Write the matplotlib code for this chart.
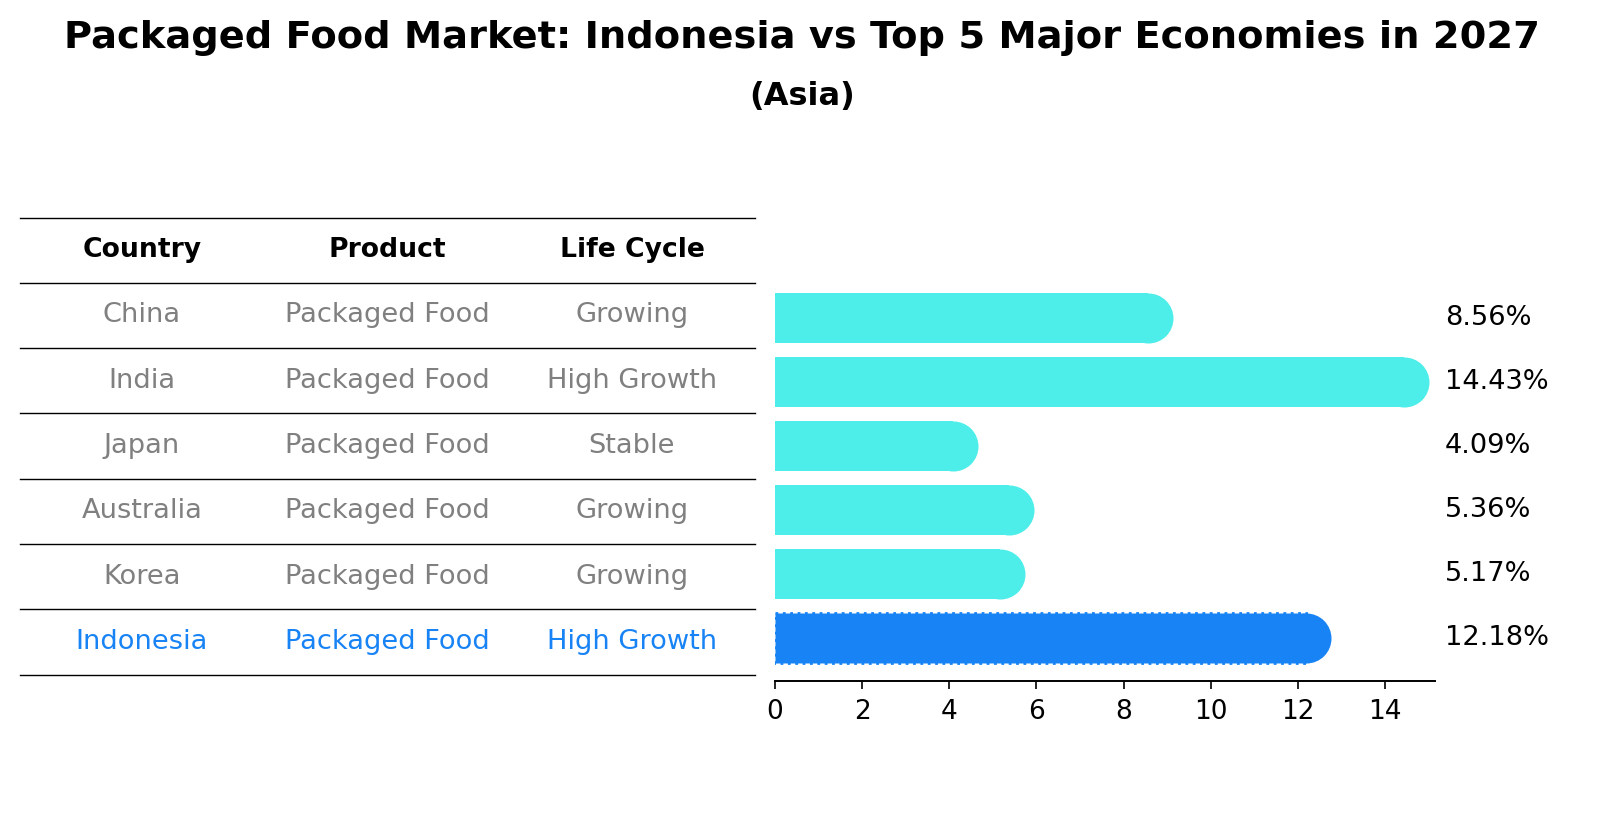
import matplotlib
matplotlib.use("Agg")
import matplotlib.pyplot as plt
from matplotlib.lines import Line2D

countries = ["China", "India", "Japan", "Australia", "Korea", "Indonesia"]
products = ["Packaged Food"] * 6
life_cycle = ["Growing", "High Growth", "Stable", "Growing", "Growing", "High Growth"]
values = [8.56, 14.43, 4.09, 5.36, 5.17, 12.18]
xticks = [0, 2, 4, 6, 8, 10, 12, 14]

W, H = 1604, 823
fig = plt.figure(figsize=(W / 200, H / 200), dpi=200)

def fx(p): return p / W
def fy(p): return 1 - p / H

fig.text(0.5, fy(38), "Packaged Food Market: Indonesia vs Top 5 Major Economies in 2027",
         ha="center", va="center", fontsize=13.8, fontweight="bold")
fig.text(0.5, fy(97), "(Asia)", ha="center", va="center", fontsize=11.5, fontweight="bold")

cyan = "#4DEDEA"
blue = "#1883F5"
gray = "#808080"

# table
line_ys = [218, 283, 348, 413, 479, 544, 609, 675]
for y in line_ys:
    fig.add_artist(Line2D([fx(20), fx(755)], [fy(y), fy(y)], color="black", lw=0.5))
col_x = [142, 387, 632]
for cx, h in zip(col_x, ["Country", "Product", "Life Cycle"]):
    fig.text(fx(cx), fy(250), h, ha="center", va="center", fontsize=9.6, fontweight="bold")
for i in range(6):
    cy = (line_ys[i + 1] + line_ys[i + 2]) / 2
    c = blue if countries[i] == "Indonesia" else gray
    for cx, t in zip(col_x, [countries[i], products[i], life_cycle[i]]):
        fig.text(fx(cx), fy(cy), t, ha="center", va="center", fontsize=9.8, color=c)

# bars
ax = fig.add_axes([fx(775), fy(681), fx(1435 - 775), (681 - 285) / H])
for i, v in enumerate(values):
    c = blue if countries[i] == "Indonesia" else cyan
    ls = ":" if countries[i] == "Indonesia" else "-"
    ax.barh(i, v, height=0.78, color=c, edgecolor=c, linestyle=ls, linewidth=1 if ls == ":" else 0)
    ax.plot([v], [i], marker="o", markersize=18, color=c, markeredgewidth=0)
    ax.text(1.015, (5.67 - i) / (5.67 + 0.52), f"{v:.2f}%", transform=ax.transAxes,
            ha="left", va="center", fontsize=9.8)
ax.set_ylim(5.67, -0.52)
ax.set_xlim(0, 15.15)
ax.set_xticks(xticks)
ax.set_yticks([])
ax.tick_params(axis="x", labelsize=9.5, length=3, width=0.6)
for s in ["top", "right", "left"]:
    ax.spines[s].set_visible(False)
ax.spines["bottom"].set_linewidth(0.7)

fig.savefig("out.png", dpi=200)
